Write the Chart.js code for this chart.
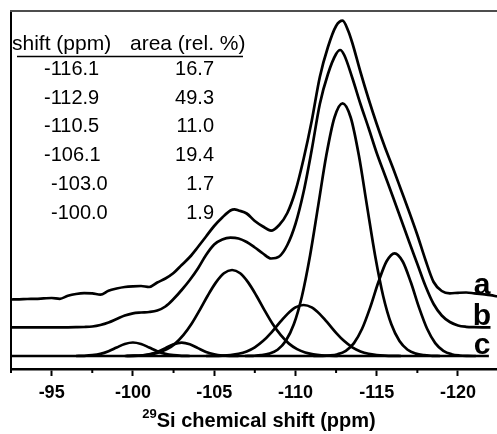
<!DOCTYPE html>
<html lang="en">
<head>
  <meta charset="UTF-8" />
  <title>29Si MAS NMR deconvolution</title>
  <script src="https://cdn.jsdelivr.net/npm/chart.js"></script>
  <style>
    html, body { margin: 0; padding: 0; background: #fff; }
    #wrap { width: 497px; height: 434px; position: relative; }
  </style>
</head>
<body>
  <div id="wrap"><canvas id="nmr"></canvas></div>

  <script>
    // table in the upper left corner
    const peakShifts = ["-116.1", "-112.9", "-110.5", "-106.1", "-103.0", "-100.0"];
    const peakAreas = ["16.7", "49.3", "11.0", "19.4", "1.7", "1.9"];
    const curveNames = ["a", "b", "c"];
    const axisTitle = "Si chemical shift (ppm)";
    const axisIsotope = "29";

    // a: measured spectrum (offset), intensity in arbitrary units
    const shiftA = [-92.5, -93, -93.5, -94, -94.5, -95, -95.5, -96, -96.5, -97, -97.5, -98, -98.5, -99, -99.5,
      -100, -100.5, -101, -101.5, -102, -102.5, -103, -103.5, -104, -104.5, -105, -105.5, -106, -106.25, -106.5,
      -107, -107.5, -108, -108.5, -109, -109.5, -110, -110.5, -111, -111.5, -112, -112.5, -112.9, -113.25, -113.5,
      -114, -114.5, -115, -115.5, -116, -116.5, -117, -117.5, -118, -118.5, -119, -119.5, -120, -120.5, -121,
      -121.5, -122, -122.4];
    const specA = [69.5, 69.7, 70.0, 70.2, 70.6, 71.0, 70.2, 73.2, 75.0, 75.8, 75.6, 74.3, 78.3, 80.5, 82.0,
      82.7, 83.0, 82.0, 86.5, 90.5, 96.0, 104.0, 112.0, 122.0, 132.5, 143.0, 151.5, 158.5, 159.7, 158.5,
      155.5, 148.0, 142.5, 138.3, 144.0, 156.0, 178.0, 210.0, 248.0, 292.0, 322.0, 343.0, 348.3, 338.0, 326.0,
      297.0, 270.0, 245.0, 222.0, 201.0, 179.0, 157.0, 134.0, 109.0, 87.0, 78.0, 75.7, 76.2, 76.5, 75.7,
      74.8, 73.8, 72.5];

    // b: simulated sum of the components (offset)
    const shiftB = [-92.5, -93, -94, -95, -96, -96.5, -97, -97.5, -98, -98.5, -99, -99.5, -100, -100.5, -101,
      -101.5, -102, -102.5, -103, -103.5, -104, -104.5, -105, -105.5, -106, -106.5, -107, -107.5, -108, -108.5,
      -109, -109.5, -110, -110.5, -111, -111.5, -112, -112.5, -112.75, -113, -113.5, -114, -114.5, -115, -115.5,
      -116, -116.5, -117, -117.5, -118, -118.5, -119, -119.5, -120, -120.5, -121, -121.5, -122];
    const specB = [41.7, 41.7, 41.7, 41.7, 41.7, 41.8, 42.0, 42.5, 44.0, 46.5, 50.0, 53.5, 55.7, 56.5, 57.0,
      58.5, 62.5, 70.0, 79.0, 89.0, 100.5, 114.0, 124.5, 129.5, 131.3, 130.5, 127.0, 121.5, 115.5, 110.5,
      112.5, 124.0, 145.0, 177.0, 219.0, 265.0, 295.0, 315.0, 319.0, 314.0, 291.0, 265.0, 241.0, 216.0, 194.0,
      172.0, 149.5, 127.0, 105.0, 83.0, 65.0, 53.5, 47.0, 43.5, 42.2, 41.8, 41.7, 41.7];

    // c: baseline of the fitted components
    const shiftBase = [-92.5, -121.9];
    const specBase = [13, 13];

    // c: individual components
    const shiftC100 = [-96.5, -97, -97.5, -98, -98.5, -99, -99.5, -100, -100.5, -101, -101.5, -102, -102.5, -103, -103.5];
    const specC100 = [13.0, 13.2, 13.8, 15.1, 17.8, 21.5, 25.0, 26.5, 25.0, 21.5, 17.8, 15.1, 13.8, 13.2, 13.0];

    const shiftC103 = [-99.5, -100, -100.5, -101, -101.5, -102, -102.5, -103, -103.5, -104, -104.5, -105, -105.5, -106, -106.5];
    const specC103 = [13.0, 13.1, 13.5, 14.7, 17.1, 20.9, 24.7, 26.3, 24.7, 20.9, 17.1, 14.7, 13.5, 13.1, 13.0];

    const shiftC106 = [-99.6, -100.1, -100.6, -101.1, -101.6, -102.1, -102.6, -103.1, -103.6, -104.1, -104.6, -105.1,
      -105.6, -106.1, -106.6, -107.1, -107.6, -108.1, -108.6, -109.1, -109.6, -110.1, -110.6, -111.1, -111.6, -112.1, -112.6];
    const specC106 = [13.1, 13.3, 13.7, 14.7, 16.5, 19.9, 25.4, 33.8, 45.0, 58.7, 73.3, 86.4,
      95.7, 99.0, 95.7, 86.4, 73.3, 58.7, 45.0, 33.8, 25.4, 19.9, 16.5, 14.7, 13.7, 13.3, 13.1];

    const shiftC110 = [-104.5, -105, -105.5, -106, -106.5, -107, -107.5, -108, -108.5, -109, -109.5, -110, -110.5,
      -111, -111.5, -112, -112.5, -113, -113.5, -114, -114.5, -115, -115.5, -116, -116.5];
    const specC110 = [13.0, 13.1, 13.4, 14.0, 15.2, 17.6, 21.7, 27.9, 36.2, 45.8, 54.9, 61.6, 64.0,
      61.6, 54.9, 45.8, 36.2, 27.9, 21.7, 17.6, 15.2, 14.0, 13.4, 13.1, 13.0];

    const shiftC113 = [-106.9, -107.4, -107.9, -108.4, -108.9, -109.4, -109.9, -110.4, -110.9, -111.4, -111.9, -112.4,
      -112.9, -113.4, -113.9, -114.4, -114.9, -115.4, -115.9, -116.4, -116.9, -117.4, -117.9, -118.4, -118.9];
    const specC113 = [13.0, 13.2, 13.8, 15.4, 19.3, 28.0, 44.7, 72.8, 113.5, 163.4, 213.7, 251.5,
      265.7, 251.5, 213.7, 163.4, 113.5, 72.8, 44.7, 28.0, 19.3, 15.4, 13.8, 13.2, 13.0];

    const shiftC116 = [-111.1, -111.6, -112.1, -112.6, -113.1, -113.6, -114.1, -114.6, -115.1, -115.6, -116.1,
      -116.6, -117.1, -117.6, -118.1, -118.6, -119.1, -119.6, -120.1, -120.6, -121.1];
    const specC116 = [13.0, 13.1, 13.5, 14.8, 18.2, 25.9, 40.2, 61.6, 86.7, 107.5, 115.7,
      107.5, 86.7, 61.6, 40.2, 25.9, 18.2, 14.8, 13.5, 13.1, 13.0];

    const FONT = '"Liberation Sans", Arial, Helvetica, sans-serif';

    function pts(xs, ys) {
      return xs.map((x, i) => ({ x: x, y: ys[i] }));
    }

    function line(xs, ys) {
      return {
        data: pts(xs, ys),
        borderColor: "#000",
        borderWidth: 2.7,
        pointRadius: 0,
        fill: false,
        cubicInterpolationMode: "monotone"
      };
    }

    // table, curve letters, minor ticks, frame and axis title
    const decorations = {
      id: "decorations",
      afterDraw(chart) {
        const ctx = chart.ctx;
        const area = chart.chartArea;
        const xs = chart.scales.x;
        const ys = chart.scales.y;
        ctx.save();

        // top frame line
        ctx.strokeStyle = "#4d4d4d";
        ctx.lineWidth = 2;
        ctx.beginPath();
        ctx.moveTo(area.left - 1, area.top);
        ctx.lineTo(area.right, area.top);
        ctx.stroke();

        // minor ticks
        ctx.strokeStyle = "#000";
        ctx.lineWidth = 2;
        xs.ticks.forEach(t => {
          if (t.value % 5 !== 0) {
            const px = xs.getPixelForValue(t.value);
            ctx.beginPath();
            ctx.moveTo(px, area.bottom);
            ctx.lineTo(px, area.bottom + 4);
            ctx.stroke();
          }
        });

        // table
        ctx.fillStyle = "#000";
        ctx.textBaseline = "alphabetic";
        ctx.textAlign = "left";
        ctx.font = "21px " + FONT;
        ctx.fillText("shift (ppm)", 12, 50);
        ctx.fillText("area (rel. %)", 130, 50);
        ctx.lineWidth = 1.5;
        ctx.beginPath();
        ctx.moveTo(17, 56.5);
        ctx.lineTo(243, 56.5);
        ctx.stroke();
        ctx.font = "20px " + FONT;
        peakShifts.forEach((s, i) => {
          const y = 75 + i * 28.7;
          ctx.textAlign = "left";
          ctx.fillText(s, i < 4 ? 44 : 51, y);
          ctx.textAlign = "right";
          ctx.fillText(peakAreas[i], 214, y);
        });

        // curve letters, sitting on the end of each trace
        const ends = [specA[specA.length - 1], specB[specB.length - 1], specBase[specBase.length - 1]];
        ctx.font = "bold 30px " + FONT;
        ctx.textAlign = "center";
        curveNames.forEach((n, i) => {
          ctx.fillText(n, 482, ys.getPixelForValue(ends[i]) - 2.5);
        });

        // x axis title with superscript isotope number
        ctx.textAlign = "left";
        ctx.font = "bold 13px " + FONT;
        const supW = ctx.measureText(axisIsotope).width;
        ctx.font = "bold 20px " + FONT;
        const mainW = ctx.measureText(axisTitle).width;
        const x0 = (area.left + area.right) / 2 + 5 - (supW + mainW) / 2;
        ctx.fillText(axisTitle, x0 + supW, 427);
        ctx.font = "bold 13px " + FONT;
        ctx.fillText(axisIsotope, x0, 418);

        ctx.restore();
      }
    };

    new Chart(document.getElementById("nmr"), {
      type: "line",
      data: {
        datasets: [
          line(shiftA, specA),
          line(shiftB, specB),
          line(shiftBase, specBase),
          line(shiftC100, specC100),
          line(shiftC103, specC103),
          line(shiftC106, specC106),
          line(shiftC110, specC110),
          line(shiftC113, specC113),
          line(shiftC116, specC116)
        ]
      },
      options: {
        responsive: true,
        maintainAspectRatio: false,
        animation: false,
        devicePixelRatio: 1,
        layout: { padding: { top: 11, right: 0, left: 0, bottom: 0 } },
        plugins: {
          legend: { display: false },
          tooltip: { enabled: false }
        },
        scales: {
          x: {
            type: "linear",
            reverse: true,
            min: -122.4,
            max: -92.5,
            afterFit: s => { s.height = 65; },
            border: { display: true, color: "#000", width: 2.5 },
            grid: {
              drawOnChartArea: false,
              drawTicks: true,
              tickLength: 7,
              tickWidth: 2,
              tickColor: c => (c.tick && c.tick.value % 5 === 0) ? "#000" : "rgba(0,0,0,0)"
            },
            ticks: {
              stepSize: 2.5,
              includeBounds: false,
              autoSkip: false,
              maxRotation: 0,
              padding: 6,
              color: "#000",
              font: { family: FONT, size: 18, weight: "bold" },
              callback: v => (v % 5 === 0 ? String(v) : "")
            }
          },
          y: {
            min: 0,
            max: 358,
            afterFit: s => { s.width = 11; },
            border: { display: true, color: "#000", width: 2 },
            grid: { display: false },
            ticks: { display: false }
          }
        }
      },
      plugins: [decorations]
    });
  </script>
</body>
</html>
